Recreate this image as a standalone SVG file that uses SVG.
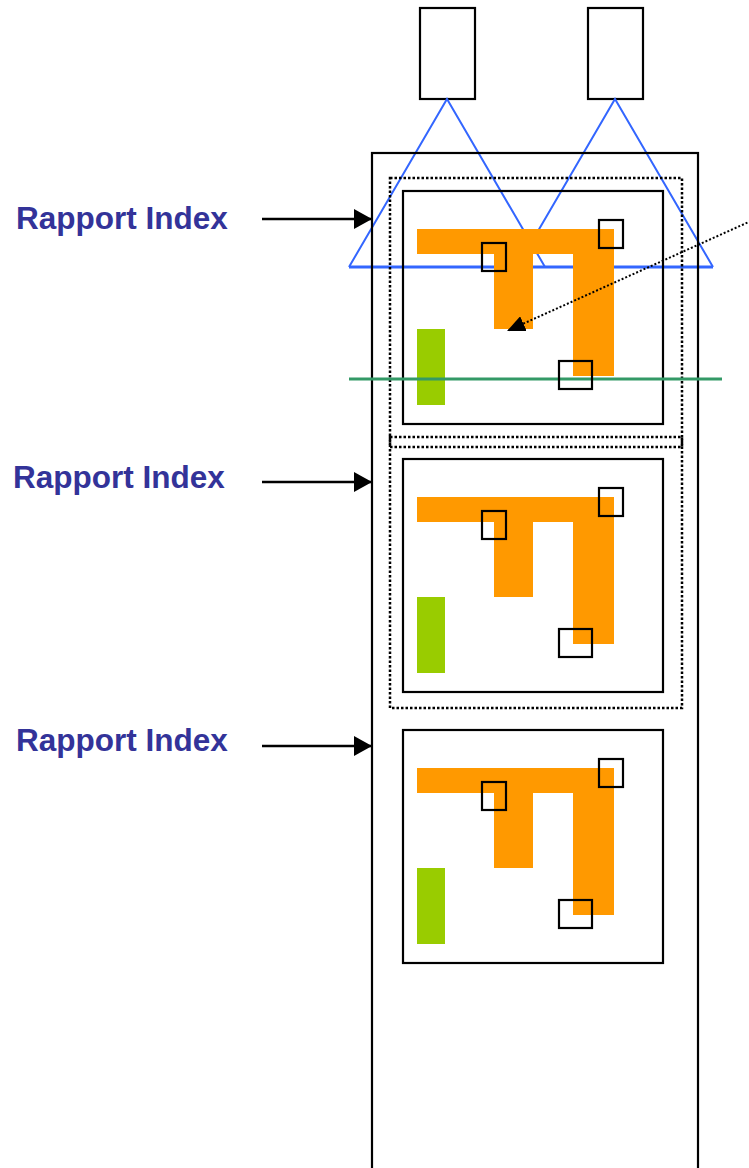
<svg xmlns="http://www.w3.org/2000/svg" xmlns:xlink="http://www.w3.org/1999/xlink" width="749" height="1168" viewBox="0 0 749 1168">
  <style>
    .blk { fill: none; stroke: #000; stroke-width: 2.2; }
    .dot { fill: none; stroke: #000; stroke-width: 2.5; stroke-dasharray: 2.5 2; }
    .blue { fill: none; stroke: #3366ff; stroke-width: 2; }
    .org { fill: #ff9900; }
    .grn { fill: #99cc00; }
    .lbl { font-family: "Liberation Sans", Arial, sans-serif; font-weight: bold; font-size: 31.5px; fill: #333399; }
    .arr { stroke: #000; stroke-width: 2.5; fill: none; marker-end: url(#ah); }
  </style>
  <defs>
    <marker id="ah" markerUnits="userSpaceOnUse" markerWidth="20" markerHeight="22" refX="18" refY="10" orient="auto">
      <path d="M0,0 L18,10 L0,20 Z" fill="#000"/>
    </marker>
    <marker id="ah2" markerUnits="userSpaceOnUse" markerWidth="20" markerHeight="16" refX="18" refY="8" orient="auto">
      <path d="M0,0 L18,8 L0,16 Z" fill="#000"/>
    </marker>
    <g id="panel">
      <rect class="org" x="14" y="38" width="197" height="25"/>
      <rect class="org" x="91" y="63" width="39" height="75"/>
      <rect class="org" x="170" y="63" width="41" height="122"/>
      <rect class="grn" x="14" y="138" width="28" height="76"/>
      <rect class="blk" x="0" y="0" width="260" height="233"/>
    </g>
    <g id="squares">
      <rect class="blk" x="79" y="52" width="24" height="28"/>
      <rect class="blk" x="196" y="29" width="24" height="28"/>
      <rect class="blk" x="156" y="170" width="33" height="28"/>
    </g>
  </defs>

  <g id="cameras">
    <rect class="blk" x="420" y="8" width="55" height="91"/>
    <rect class="blk" x="588" y="8" width="55" height="91"/>
  </g>

  <g id="view-cones">
    <polyline class="blue" points="349,267 447,99 545,267"/>
    <polyline class="blue" points="517,267 615,99 713,267"/>
    <line x1="349" y1="267" x2="713" y2="267" stroke="#3366ff" stroke-width="3"/>
  </g>

  <g id="strip">
    <rect class="blk" x="372" y="153" width="326" height="1030"/>
  </g>

  <g id="selection-1">
    <rect class="dot" x="390" y="178" width="292" height="269"/>
  </g>
  <g id="selection-2">
    <rect class="dot" x="390" y="437" width="292" height="271"/>
  </g>

  <g id="frame-1" transform="translate(403,191)">
    <use xlink:href="#panel"/>
  </g>
  <g id="frame-2" transform="translate(403,459)">
    <use xlink:href="#panel"/>
  </g>
  <g id="frame-3" transform="translate(403,730)">
    <use xlink:href="#panel"/>
  </g>

  <g id="scan-line">
    <line x1="349" y1="379" x2="722" y2="379" stroke="#339966" stroke-width="3"/>
  </g>

  <g id="frame-1-markers" transform="translate(403,191)">
    <use xlink:href="#squares"/>
  </g>
  <g id="frame-2-markers" transform="translate(403,459)">
    <use xlink:href="#squares"/>
  </g>
  <g id="frame-3-markers" transform="translate(403,730)">
    <use xlink:href="#squares"/>
  </g>

  <g id="label-1">
    <text class="lbl" x="16" y="229">Rapport Index</text>
  </g>
  <g id="label-2">
    <text class="lbl" x="13" y="488">Rapport Index</text>
  </g>
  <g id="label-3">
    <text class="lbl" x="16" y="751">Rapport Index</text>
  </g>

  <g id="connectors">
    <line class="arr" x1="262" y1="219" x2="372" y2="219"/>
    <line class="arr" x1="262" y1="482" x2="372" y2="482"/>
    <line class="arr" x1="262" y1="746" x2="372" y2="746"/>
    <line x1="762" y1="216" x2="507" y2="331" stroke="#000" stroke-width="2" stroke-dasharray="2 2" marker-end="url(#ah2)"/>
  </g>
</svg>
